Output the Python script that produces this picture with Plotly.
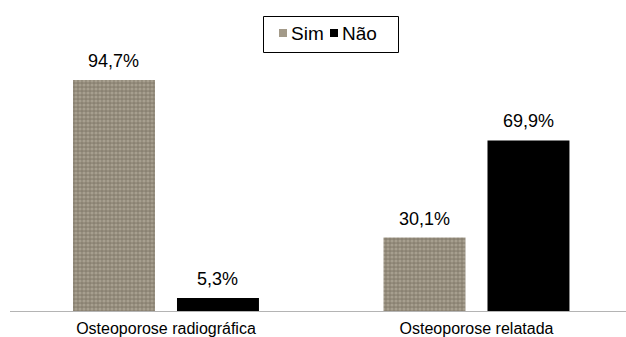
import plotly.graph_objects as go

# Data
categories = ["Osteoporose radiográfica", "Osteoporose relatada"]
series_names = ["Sim", "Não"]
sim_values = [94.7, 30.1]
nao_values = [5.3, 69.9]

W, H = 626, 337
L, R, T, B = 10, 0, 67, 26
PW, PH = W - L - R, H - T - B

FONT = "Liberation Sans, Arial, Helvetica, sans-serif"
SIM_BG = "#8a8272"
SIM_FG = "#c4bcac"
NAO_COLOR = "#000000"

BAR_W = 0.264
OFFSETS = {"Sim": -0.2995, "Não": 0.0354}

fig = go.Figure()

fig.add_trace(go.Bar(
    name=series_names[0],
    x=list(range(len(categories))),
    y=sim_values,
    width=BAR_W,
    offset=OFFSETS["Sim"],
    marker=dict(
        color=SIM_BG,
        line=dict(width=0),
        pattern=dict(shape=".", bgcolor=SIM_BG, fgcolor=SIM_FG,
                     fillmode="overlay", size=4, solidity=0.5),
    ),
    showlegend=False,
))
fig.add_trace(go.Bar(
    name=series_names[1],
    x=list(range(len(categories))),
    y=nao_values,
    width=BAR_W,
    offset=OFFSETS["Não"],
    marker=dict(color=NAO_COLOR, line=dict(width=0)),
    showlegend=False,
))

# Value labels above each bar
annotations = []
for name, vals in ((series_names[0], sim_values), (series_names[1], nao_values)):
    for i, v in enumerate(vals):
        annotations.append(dict(
            x=i + OFFSETS[name] + BAR_W / 2, y=v, xref="x", yref="y",
            text=f"{v:.1f}".replace(".", ",") + "%",
            showarrow=False, yanchor="bottom", xanchor="center", yshift=7,
            font=dict(family=FONT, size=18, color="#000000"),
        ))


def px_x(p):
    return (p - L) / PW


def px_y(p):
    return (H - B - p) / PH


# Legend box drawn as layout shapes + text
shapes = [
    dict(type="rect", xref="paper", yref="paper",
         x0=px_x(263.5), x1=px_x(398.5), y0=px_y(16.5), y1=px_y(52.5),
         line=dict(color="#000000", width=1), fillcolor="rgba(0,0,0,0)"),
    dict(type="rect", xref="paper", yref="paper",
         x0=px_x(279), x1=px_x(287), y0=px_y(29), y1=px_y(37),
         line=dict(width=0), fillcolor="#a39a89"),
    dict(type="rect", xref="paper", yref="paper",
         x0=px_x(330), x1=px_x(338), y0=px_y(29), y1=px_y(37),
         line=dict(width=0), fillcolor=NAO_COLOR),
]
annotations.append(dict(
    x=px_x(289), y=px_y(33.5), xref="paper", yref="paper", text=series_names[0],
    showarrow=False, xanchor="left", yanchor="middle",
    font=dict(family=FONT, size=19, color="#000000"),
))
annotations.append(dict(
    x=px_x(340), y=px_y(33.5), xref="paper", yref="paper", text=series_names[1],
    showarrow=False, xanchor="left", yanchor="middle",
    font=dict(family=FONT, size=19, color="#000000"),
))

fig.update_layout(
    width=W, height=H,
    margin=dict(l=L, r=R, t=T, b=B, pad=0, autoexpand=False),
    paper_bgcolor="#ffffff", plot_bgcolor="#ffffff",
    barmode="overlay",
    showlegend=False,
    annotations=annotations,
    shapes=shapes,
    xaxis=dict(
        range=[-0.5024, 1.4815],
        tickmode="array",
        tickvals=list(range(len(categories))),
        ticktext=categories,
        tickfont=dict(family=FONT, size=16, color="#000000"),
        ticklabelstandoff=3,
        automargin=False,
        showline=True, linecolor="#b4b4b4", linewidth=1,
        showgrid=False, zeroline=False, ticks="",
        fixedrange=True,
    ),
    yaxis=dict(range=[0, 100], visible=False, showgrid=False, zeroline=False,
               automargin=False, fixedrange=True),
)

fig.write_html("out.html")
